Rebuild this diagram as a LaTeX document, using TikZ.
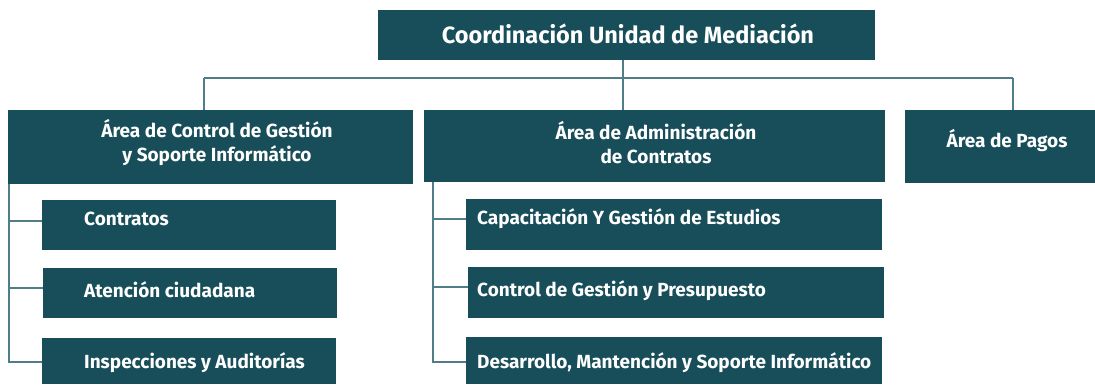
\documentclass[tikz,border=0pt]{standalone}
\usepackage{fontspec}
\setmainfont{Fira Sans}
\usetikzlibrary{calc}
\definecolor{boxc}{HTML}{174E5A}
\definecolor{linec}{HTML}{4F7E88}
\begin{document}
\begin{tikzpicture}[x=1pt,y=-1pt,
  box/.style={fill=boxc, draw=none, inner sep=0pt, anchor=north west},
  lbl/.style={text=white, inner sep=0pt, font=\fontsize{19}{24}\selectfont\bfseries, text height=13pt, text depth=0pt},
  lbltwo/.style={text=white, inner sep=0pt, font=\fontsize{19}{24}\selectfont\bfseries, align=center},
  conn/.style={draw=linec, line width=1.5pt}]
\useasboundingbox (0,0) rectangle (1095,384);
% boxes
\node[box, minimum width=497pt, minimum height=50pt] (top) at (378,10) {};
\node[box, minimum width=405pt, minimum height=74pt] (a1) at (8,110) {};
\node[box, minimum width=461pt, minimum height=72pt] (a2) at (424,110) {};
\node[box, minimum width=190pt, minimum height=73pt] (a3) at (905,110) {};
\node[box, minimum width=294pt, minimum height=50pt] (c1) at (42,200) {};
\node[box, minimum width=294pt, minimum height=50pt] (c2) at (43,268) {};
\node[box, minimum width=294pt, minimum height=46pt] (c3) at (42,338) {};
\node[box, minimum width=416pt, minimum height=51pt] (d1) at (466,199) {};
\node[box, minimum width=416pt, minimum height=51pt] (d2) at (468,267) {};
\node[box, minimum width=416pt, minimum height=47pt] (d3) at (466,337) {};
% labels
\node[lbl, font=\fontsize{23.5}{26}\selectfont\bfseries, text height=16pt] (ttop) at (628,35) {Coordinación Unidad de Mediación};
\node[lbltwo] (ta1) at (217,143) {Área de Control de Gestión\\y Soporte Informático};
\node[lbltwo] (ta2) at (656,143) {Área de Administración\\de Contratos};
\node[lbl] (ta3) at (1007,141) {Área de Pagos};
\node[lbl, anchor=west] (tc1) at (84,219) {Contratos};
\node[lbl, anchor=west] (tc2) at (84,291) {Atención ciudadana};
\node[lbl, anchor=west] (tc3) at (84,362) {Inspecciones y Auditorías};
\node[lbl, anchor=west] (td1) at (477,218) {Capacitación Y Gestión de Estudios};
\node[lbl, anchor=west] (td2) at (477,290) {Control de Gestión y Presupuesto};
\node[lbl, anchor=west] (td3) at (477,362) {Desarrollo, Mantención y Soporte Informático};
% connectors
\coordinate (j) at (623,78);
\coordinate (hl) at (204,78);
\coordinate (hr) at (1013,78);
\coordinate (tl) at (9,0);
\coordinate (tm) at (433,0);
\coordinate (bc1) at ($(c1.north west)+(0,21)$);
\coordinate (bc2) at ($(c2.north west)+(0,20)$);
\coordinate (bc3) at ($(c3.north west)+(0,24)$);
\coordinate (bd1) at ($(d1.north west)+(0,20)$);
\coordinate (bd2) at ($(d2.north west)+(0,20)$);
\coordinate (bd3) at ($(d3.north west)+(0,25)$);
\draw[conn] (top.south -| j) -- (j);
\draw[conn] (hl) -- (hr);
\draw[conn] (hl) -- (hl |- a1.north);
\draw[conn] (j) -- (j |- a2.north);
\draw[conn] (hr) -- (hr |- a3.north);
\draw[conn] (a1.south -| tl) |- (bc3);
\draw[conn] (bc1) -- (bc1 -| tl);
\draw[conn] (bc2) -- (bc2 -| tl);
\draw[conn] (a2.south -| tm) |- (bd3);
\draw[conn] (bd1) -- (bd1 -| tm);
\draw[conn] (bd2) -- (bd2 -| tm);
\end{tikzpicture}
\end{document}
